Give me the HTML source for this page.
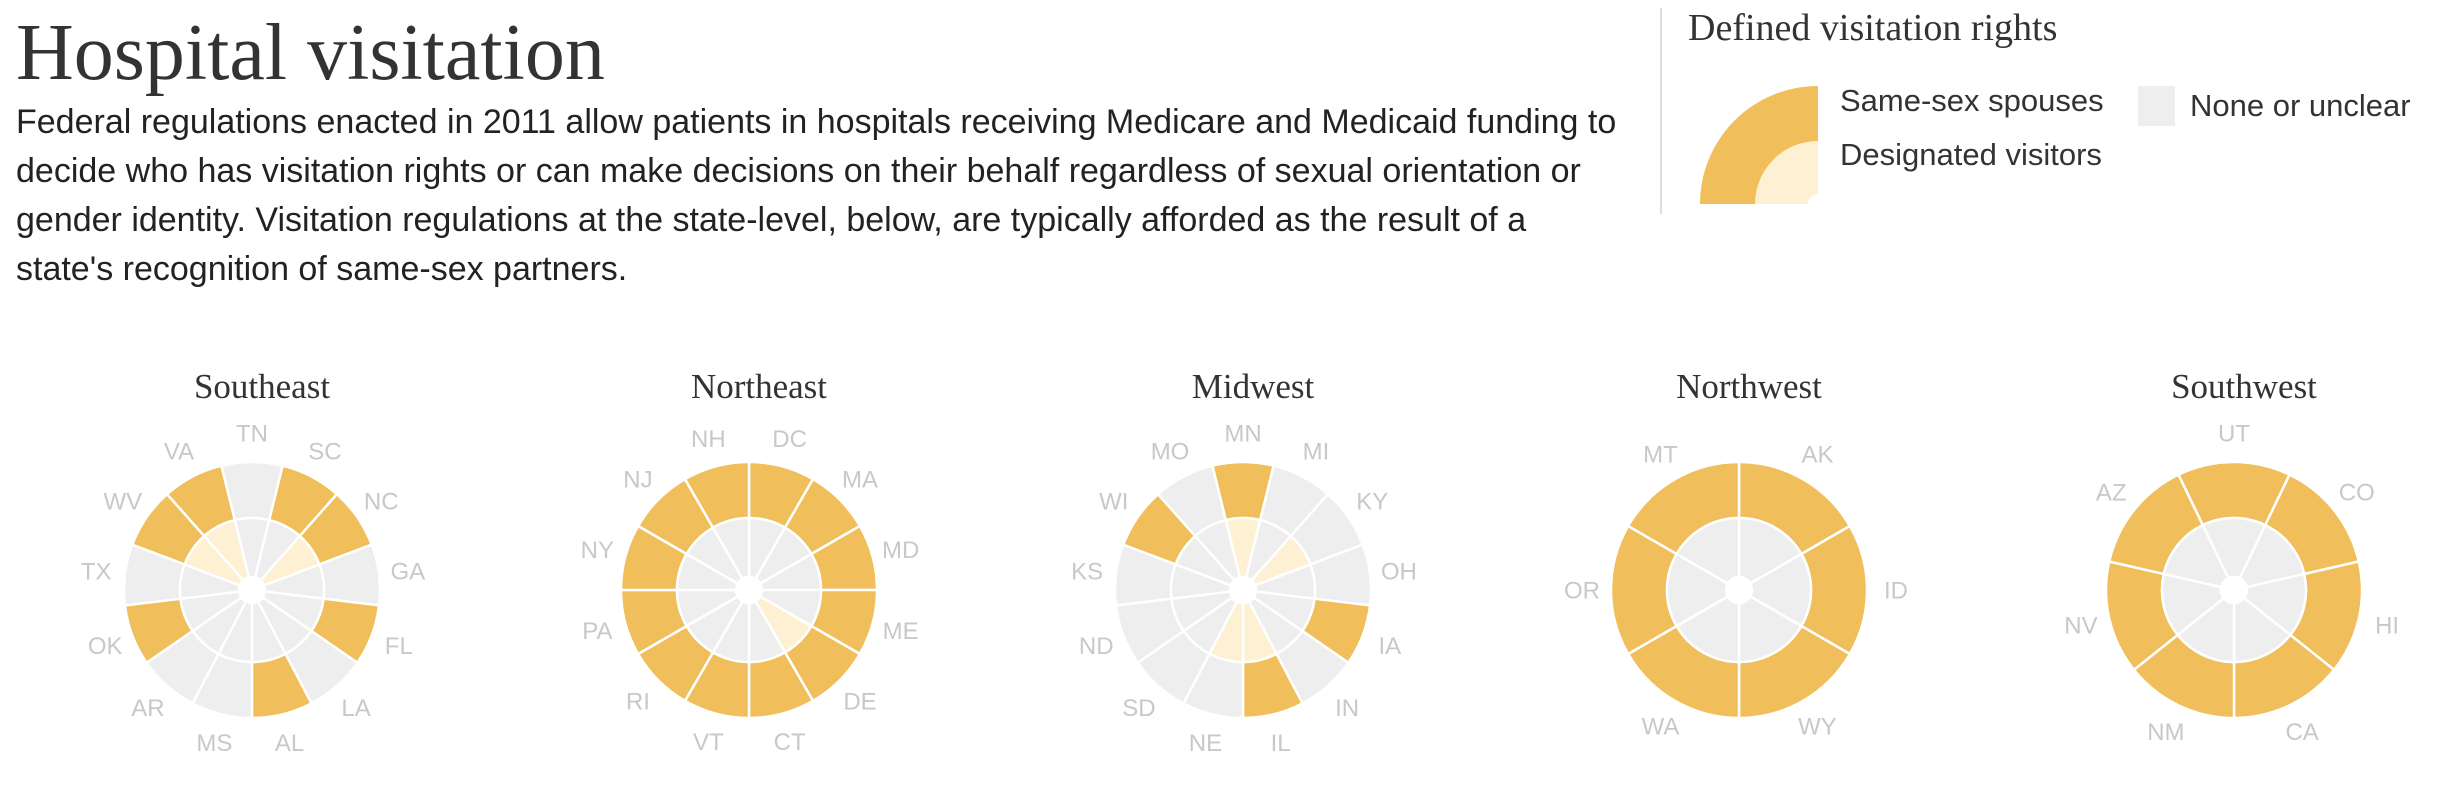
<!DOCTYPE html>
<html><head><meta charset="utf-8">
<style>
body{margin:0;background:#fff;width:2462px;height:796px;overflow:hidden;position:relative;font-family:"Liberation Sans",sans-serif}
#title{position:absolute;left:16px;top:8px;margin:0;font:normal 80px "Liberation Serif",serif;color:#333;white-space:nowrap}
#desc{position:absolute;left:16px;top:98px;margin:0;font-size:34px;line-height:49px;color:#222;white-space:nowrap}
#divider{position:absolute;left:1660px;top:8px;width:2px;height:206px;background:#ddd}
#legtitle{position:absolute;left:1688px;top:6px;font:38px "Liberation Serif",serif;color:#333;white-space:nowrap}
.lt{position:absolute;font-size:31px;color:#333;white-space:nowrap}
svg{position:absolute;left:0;top:0}
</style></head><body>
<h1 id="title">Hospital visitation</h1>
<p id="desc">Federal regulations enacted in 2011 allow patients in hospitals receiving Medicare and Medicaid funding to<br>decide who has visitation rights or can make decisions on their behalf regardless of sexual orientation or<br>gender identity. Visitation regulations at the state-level, below, are typically afforded as the result of a<br>state's recognition of same-sex partners.</p>
<div id="divider"></div>
<div id="legtitle">Defined visitation rights</div>
<svg width="2462" height="796" id="svg">
<g>
<path d="M1700,204 A118,118 0 0 1 1818,86 L1818,204 Z" fill="#f0be5a"/>
<path d="M1755,204 A63,63 0 0 1 1818,141 L1818,204 Z" fill="#fef0d2"/>
<path d="M1808,204 A10,10 0 0 1 1818,194 L1818,204 Z" fill="#fff"/>
</g>
<rect x="2138" y="86" width="37" height="40" fill="#eeeeee"/>
</svg>
<div class="lt" style="left:1840px;top:83px">Same-sex spouses</div>
<div class="lt" style="left:1840px;top:137px">Designated visitors</div>
<div class="lt" style="left:2190px;top:88px">None or unclear</div>
<script>
const regions = ["Southeast","Northeast","Midwest","Northwest","Southwest"];
const seStates = ["TN","SC","NC","GA","FL","LA","AL","MS","AR","OK","TX","WV","VA"];
const seSpouse = [0,1,1,0,1,0,1,0,0,1,0,1,1];
const seDesig  = [0,0,1,0,0,0,0,0,0,0,0,1,1];
const neStates = ["DC","MA","MD","ME","DE","CT","VT","RI","PA","NY","NJ","NH"];
const neSpouse = [1,1,1,1,1,1,1,1,1,1,1,1];
const neDesig  = [0,0,0,0,1,0,0,0,0,0,0,0];
const mwStates = ["MN","MI","KY","OH","IA","IN","IL","NE","SD","ND","KS","WI","MO"];
const mwSpouse = [1,0,0,0,1,0,1,0,0,0,0,1,0];
const mwDesig  = [1,0,1,0,0,0,1,1,0,0,0,0,0];
const nwStates = ["AK","ID","WY","WA","OR","MT"];
const nwSpouse = [1,1,1,1,1,1];
const nwDesig  = [0,0,0,0,0,0];
const swStates = ["UT","CO","HI","CA","NM","NV","AZ"];
const swSpouse = [1,1,1,1,1,1,1];
const swDesig  = [0,0,0,0,0,0,0];
const startCentered = [true,false,true,false,true];

const NS="http://www.w3.org/2000/svg";
const svg=document.getElementById('svg');
const centersX=[252,749,1243,1739,2234], CY=590;
const R0=13,R1=72,R2=128,RL=157;
function pt(cx,cy,r,a){return [cx+r*Math.sin(a),cy-r*Math.cos(a)];}
function arc(cx,cy,ri,ro,a0,a1){
  const p1=pt(cx,cy,ro,a0),p2=pt(cx,cy,ro,a1),p3=pt(cx,cy,ri,a1),p4=pt(cx,cy,ri,a0);
  const lg=(a1-a0)>Math.PI?1:0;
  return `M${p1} A${ro},${ro} 0 ${lg} 1 ${p2} L${p3} A${ri},${ri} 0 ${lg} 0 ${p4}Z`;
}
const sets=[[seStates,seSpouse,seDesig],[neStates,neSpouse,neDesig],[mwStates,mwSpouse,mwDesig],[nwStates,nwSpouse,nwDesig],[swStates,swSpouse,swDesig]];
sets.forEach((s,ri)=>{
  const [st,sp,dg]=s, n=st.length, cx=centersX[ri], w=2*Math.PI/n;
  const off=startCentered[ri]?-w/2:0;
  const t=document.createElementNS(NS,'text');
  
  
  t.setAttribute('x',cx+10);t.setAttribute('y',398);t.setAttribute('text-anchor','middle');
  t.setAttribute('font-family','Liberation Serif, serif');t.setAttribute('font-size','35');t.setAttribute('fill','#333');
  t.textContent=regions[ri];svg.appendChild(t);
  st.forEach((name,i)=>{
    const a0=off+i*w,a1=a0+w;
    const o=document.createElementNS(NS,'path');
    
    
    o.setAttribute('d',arc(cx,CY,R1,R2,a0,a1));
    o.setAttribute('fill',sp[i]?'#f0be5a':'#eeeeee');o.setAttribute('stroke','#fff');o.setAttribute('stroke-width','2.5');
    svg.appendChild(o);
    const p=document.createElementNS(NS,'path');
    
    
    p.setAttribute('d',arc(cx,CY,R0,R1,a0,a1));
    p.setAttribute('fill',dg[i]?'#fef0d2':'#eeeeee');p.setAttribute('stroke','#fff');p.setAttribute('stroke-width','2.5');
    svg.appendChild(p);
    const lp=pt(cx,CY,RL,(a0+a1)/2);
    const l=document.createElementNS(NS,'text');
    
    
    l.setAttribute('x',lp[0]);l.setAttribute('y',lp[1]+8.5);l.setAttribute('text-anchor','middle');
    l.setAttribute('font-family','Liberation Sans, sans-serif');l.setAttribute('font-size','24');l.setAttribute('fill','#c8c8c8');
    l.textContent=name;svg.appendChild(l);
  });
});
</script>
</body></html>
